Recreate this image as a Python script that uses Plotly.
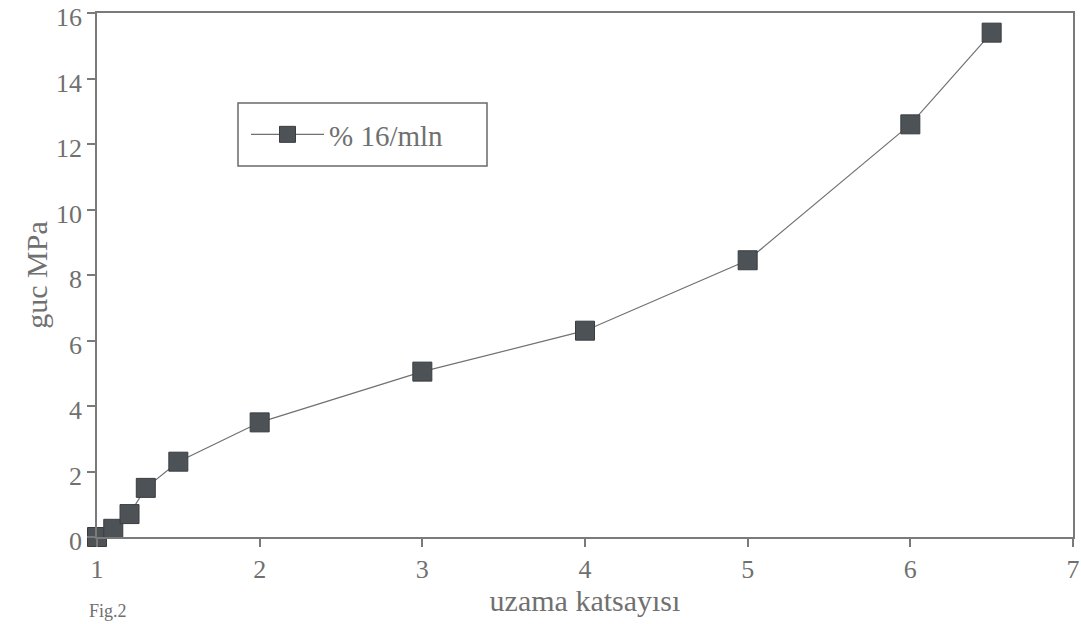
import plotly.graph_objects as go

x_vals = [1.0, 1.1, 1.2, 1.3, 1.5, 2.0, 3.0, 4.0, 5.0, 6.0, 6.5]
y_vals = [0.0, 0.25, 0.7, 1.5, 2.3, 3.5, 5.05, 6.3, 8.45, 12.6, 15.4]
series_name = "% 16/mln"
x_ticks = [1, 2, 3, 4, 5, 6, 7]
y_ticks = [0, 2, 4, 6, 8, 10, 12, 14, 16]

font_family = "Liberation Serif, Times New Roman, serif"
text_col = "#707070"
axis_col = "#7a7a7a"

W, H = 1081, 624
# plot area in page pixels
L, R, T, B = 97, 1073, 13, 537


def px(xp):
    return (xp - L) / (R - L)


def py(yp):
    return 1 - (yp - T) / (B - T)


fig = go.Figure()
fig.add_trace(go.Scatter(
    x=x_vals, y=y_vals, mode="lines+markers", name=series_name,
    line=dict(color="#6e7175", width=1.2),
    marker=dict(symbol="square", size=19, color="#4d5257",
                line=dict(color="#3a3d40", width=1)),
    cliponaxis=False,
))

axis_common = dict(
    showgrid=False, zeroline=False, showline=True, linecolor=axis_col, linewidth=1.5,
    mirror=True, ticks="outside", ticklen=8, tickcolor=axis_col, tickwidth=1.5,
    automargin=False, ticklabeloverflow="allow",
    tickfont=dict(family=font_family, size=26, color=text_col),
)

fig.update_layout(
    width=W, height=H,
    margin=dict(l=L, r=W - R, t=T, b=H - B),
    paper_bgcolor="white", plot_bgcolor="white",
    font=dict(family=font_family, color=text_col),
    showlegend=True,
    legend=dict(
        x=px(246), y=py(134.5),
        xanchor="left", yanchor="middle",
        borderwidth=0, bgcolor="rgba(0,0,0,0)",
        font=dict(family=font_family, size=29, color=text_col),
        itemwidth=73,
    ),
    xaxis=dict(range=[1, 7], tickvals=x_ticks,
               title=dict(text="uzama katsayısı", standoff=6,
                          font=dict(family=font_family, size=30, color=text_col)),
               **axis_common),
    yaxis=dict(range=[0, 16], tickvals=y_ticks, ticklabelshift=4,
               title=dict(text="guc MPa", standoff=0,
                          font=dict(family=font_family, size=30, color=text_col)),
               **axis_common),
)

fig.add_shape(type="rect", xref="paper", yref="paper",
              x0=px(238), x1=px(487), y0=py(166), y1=py(103),
              line=dict(color="#6a6a6a", width=1.5), fillcolor="rgba(0,0,0,0)")

fig.add_annotation(text="Fig.2", xref="paper", yref="paper", x=px(87), y=py(599),
                   xanchor="left", yanchor="top", showarrow=False,
                   font=dict(family=font_family, size=18, color=text_col))

fig.write_html("out.html", config={"displayModeBar": False},
               post_script="document.body.style.margin='0';document.body.style.overflow='hidden';")
